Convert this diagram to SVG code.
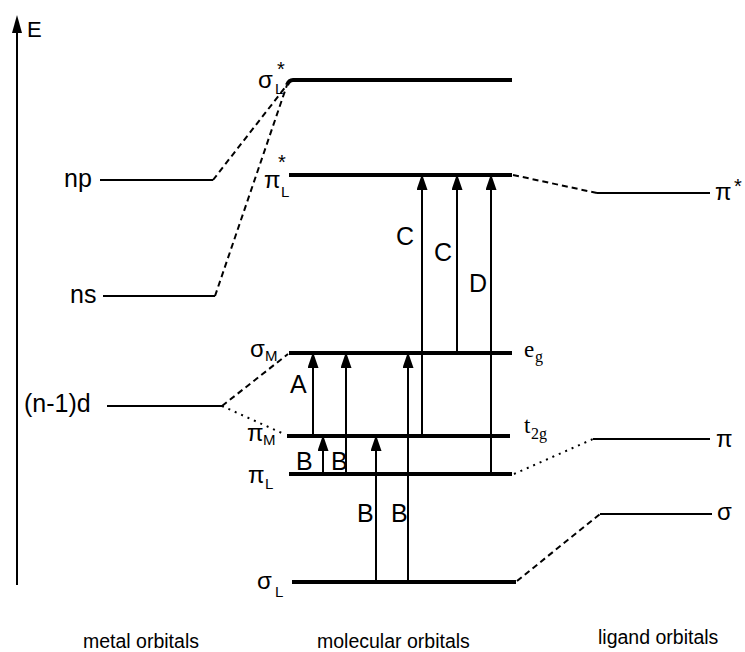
<svg xmlns="http://www.w3.org/2000/svg" width="745" height="652" viewBox="0 0 745 652">
<style>
text{font-family:"Liberation Sans",Arial,sans-serif;fill:#000}
.lab{font-size:25px}
.sym{font-size:24px}
.sub{font-size:15px}
.star{font-size:20px}
.ser{font-family:"Liberation Serif","Times New Roman",serif;font-size:23px}
.sers{font-family:"Liberation Serif","Times New Roman",serif;font-size:16px}
.foot{font-size:19.5px}
.mo{stroke:#000;stroke-width:4;fill:none}
.lv{stroke:#000;stroke-width:1.8;fill:none}
.dash{stroke:#000;stroke-width:2;stroke-dasharray:6 4;fill:none}
.dot{stroke:#000;stroke-width:2;stroke-dasharray:2 5;fill:none}
.arr{stroke:#000;stroke-width:2;fill:none;marker-end:url(#ah)}
</style>
<defs>
<marker id="ah" markerUnits="userSpaceOnUse" markerWidth="16" markerHeight="11" refX="15" refY="5.5" orient="auto">
<path d="M0,0 L16,5.5 L0,11 z" fill="#000"/>
</marker>
</defs>
<rect width="745" height="652" fill="#fff"/>

<g id="axis">
<line x1="17" y1="585" x2="17" y2="30" stroke="#000" stroke-width="2"/>
<path d="M12,33 L17,15 L22,33 z" fill="#000"/>
<text class="lab" x="27" y="37" style="font-size:22px">E</text>
</g>

<g id="metal-np"><line class="lv" x1="100" y1="180" x2="213" y2="180"/><text class="lab" x="64" y="187">np</text></g>
<g id="metal-ns"><line class="lv" x1="103" y1="296" x2="215" y2="296"/><text class="lab" x="70" y="303">ns</text></g>
<g id="metal-d"><line class="lv" x1="107" y1="406" x2="222" y2="406"/><text class="lab" x="24" y="412">(n-1)d</text></g>

<g id="mo-sigmaLstar"><path class="mo" d="M287,85 Q289,80 293,80 L512,80"/><text class="sym" x="258" y="88">σ</text><text class="sub" x="275" y="94">L</text><text class="star" x="277" y="76">*</text></g>
<g id="mo-piLstar"><line class="mo" x1="289" y1="175" x2="512" y2="175"/><text class="sym" x="264" y="188">π</text><text class="sub" x="281" y="197">L</text><text class="star" x="278" y="169">*</text></g>
<g id="mo-sigmaM"><line class="mo" x1="289" y1="353" x2="512" y2="353"/><text class="sym" x="250" y="357">σ</text><text class="sub" x="265" y="361">M</text><text class="ser" x="524" y="357">e</text><text class="sers" x="535" y="362">g</text></g>
<g id="mo-piM"><line class="mo" x1="287" y1="436" x2="510" y2="436"/><text class="sym" x="247" y="441">π</text><text class="sub" x="263" y="445">M</text><text class="ser" x="524" y="433">t</text><text class="sers" x="531" y="439">2g</text></g>
<g id="mo-piL"><line class="mo" x1="289" y1="474" x2="512" y2="474"/><text class="sym" x="248" y="483">π</text><text class="sub" x="265" y="489">L</text></g>
<g id="mo-sigmaL"><line class="mo" x1="292" y1="582" x2="516" y2="582"/><text class="sym" x="257" y="589">σ</text><text class="sub" x="275" y="597">L</text></g>

<g id="lig-pistar"><line class="lv" x1="597" y1="193" x2="710" y2="193"/><text class="sym" x="715" y="200">π</text><text class="star" x="734" y="193">*</text></g>
<g id="lig-pi"><line class="lv" x1="593" y1="439" x2="710" y2="439"/><text class="sym" x="716" y="447">π</text></g>
<g id="lig-sigma"><line class="lv" x1="600" y1="514" x2="712" y2="514"/><text class="sym" x="717" y="520">σ</text></g>

<g id="connectors">
<line class="dash" x1="213" y1="180" x2="287" y2="85"/>
<line class="dash" x1="215" y1="296" x2="287" y2="85"/>
<line class="dash" x1="222" y1="406" x2="288" y2="354"/>
<line class="dot" x1="222" y1="406" x2="284" y2="434"/>
<line class="dash" x1="513" y1="175" x2="597" y2="193"/>
<line class="dot" x1="514" y1="474" x2="593" y2="439"/>
<line class="dash" x1="517" y1="581" x2="600" y2="514"/>
<line class="arr" x1="313" y1="436" x2="313" y2="353"/>
<line class="arr" x1="346" y1="474" x2="346" y2="353"/>
<line class="arr" x1="323" y1="474" x2="323" y2="436"/>
<line class="arr" x1="376" y1="582" x2="376" y2="436"/>
<line class="arr" x1="408" y1="582" x2="408" y2="353"/>
<line class="arr" x1="422" y1="436" x2="422" y2="175"/>
<line class="arr" x1="457" y1="353" x2="457" y2="175"/>
<line class="arr" x1="491" y1="474" x2="491" y2="175"/>
</g>

<g id="transition-labels">
<text class="lab" x="290" y="393">A</text>
<text class="lab" x="296" y="470">B</text>
<text class="lab" x="331" y="470">B</text>
<text class="lab" x="357" y="522">B</text>
<text class="lab" x="391" y="522">B</text>
<text class="lab" x="396" y="245">C</text>
<text class="lab" x="434" y="261">C</text>
<text class="lab" x="469" y="292">D</text>
</g>

<g id="footer">
<text class="foot" x="83" y="648">metal orbitals</text>
<text class="foot" x="317" y="648">molecular orbitals</text>
<text class="foot" x="598" y="644">ligand orbitals</text>
</g>
</svg>
